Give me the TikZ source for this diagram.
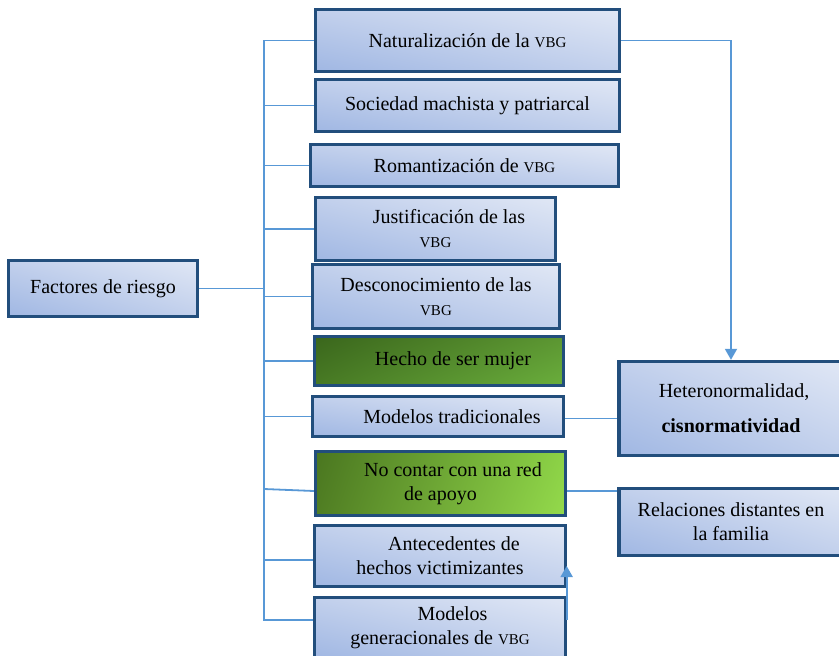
\documentclass[tikz,border=0pt]{standalone}
\usepackage{fontspec}
\setmainfont{Liberation Serif}
\usetikzlibrary{arrows.meta,shadings,calc}

\definecolor{frame}{RGB}{34,78,124}
\definecolor{wire}{RGB}{88,152,214}
\definecolor{bluelo}{RGB}{160,183,227}
\definecolor{bluemid}{RGB}{194,208,236}
\definecolor{bluehi}{RGB}{224,231,245}
\definecolor{darkgreenA}{RGB}{58,102,28}
\definecolor{darkgreenB}{RGB}{72,122,36}
\definecolor{darkgreenC}{RGB}{92,150,50}
\definecolor{darkgreenD}{RGB}{106,174,60}
\definecolor{litegreenA}{RGB}{74,118,32}
\definecolor{litegreenB}{RGB}{80,126,35}
\definecolor{litegreenC}{RGB}{140,210,70}
\definecolor{litegreenD}{RGB}{148,218,76}

\newcommand{\vbg}{{\fontsize{15}{18}\selectfont VBG}}

\tikzset{
  card/.style={draw=frame, line width=3.3pt, inner sep=0pt, align=center,
    font=\fontsize{20}{24}\selectfont},
  bluecard/.style={card, lower left=bluelo, upper right=bluehi,
    upper left=bluemid, lower right=bluemid},
  greencard/.style={card, lower left=darkgreenB, upper left=darkgreenA,
    upper right=darkgreenC, lower right=darkgreenD},
  brightcard/.style={card, lower left=litegreenB, upper left=litegreenA,
    upper right=litegreenC, lower right=litegreenD},
  wirelink/.style={draw=wire, line width=1.8pt},
  wirearrow/.style={wirelink, -{Triangle[width=12pt,length=11pt]}},
}

\begin{document}
\begin{tikzpicture}[x=1pt, y=-1pt]
\useasboundingbox (0,0) rectangle (839,656);
\clip (0,0) rectangle (839,656);

% root
\node[bluecard, minimum width=189pt, minimum height=56pt] (fac) at (103,288.5) {Factores de riesgo};

% risk factors
\node[bluecard, minimum width=304pt, minimum height=62pt] (nat) at (467.5,40.5) {Naturalización de la \vbg};
\node[bluecard, minimum width=304pt, minimum height=52pt] (soc) at (467.5,105.5) {Sociedad machista y patriarcal};
\node[bluecard, minimum width=308pt, minimum height=42pt] (rom) at (464.5,165.5) {Romantización de \vbg};
\node[bluecard, minimum width=240pt, minimum height=63pt] (jus) at (435.5,229) {\hspace*{27pt}Justificación de las\\\vbg};
\node[bluecard, minimum width=247pt, minimum height=64pt] (des) at (436,296.5) {Desconocimiento de las\\\vbg};
\node[greencard, minimum width=249pt, minimum height=49pt] (hec) at (439,361) {\hspace*{28pt}Hecho de ser mujer};
\node[bluecard, minimum width=251pt, minimum height=40pt] (mod) at (438,416.5) {\hspace*{28pt}Modelos tradicionales};
\node[brightcard, minimum width=250pt, minimum height=64pt] (noc) at (440.5,483.5) {\hspace*{25pt}No contar con una red\\de apoyo};
\node[bluecard, minimum width=251pt, minimum height=61pt] (ant) at (440,556) {\hspace*{28pt}Antecedentes de\\hechos victimizantes};
\node[bluecard, minimum width=251pt, minimum height=61pt] (gen) at (440,628) {\hspace*{25pt}Modelos\\generacionales de \vbg};

% consequences
\node[bluecard, minimum width=224pt, minimum height=94pt] (het) at (731,408.5) {\hspace*{6pt}Heteronormalidad,\\[11pt]\textbf{cisnormatividad}};
\node[bluecard, minimum width=224pt, minimum height=67pt] (rel) at (731,522) {Relaciones distantes en\\la familia};

% spine joining the root to every factor
\coordinate (spine) at (264,0);
\coordinate (genstub) at ($(gen.west)+(0,-8)$);
\draw[wirelink] (fac.east) -- (fac.east -| spine);
\draw[wirelink, line cap=rect] (nat.west -| spine) -- (genstub -| spine);
\foreach \b in {nat,soc,rom,jus,des,hec,mod}
  \draw[wirelink] (\b.west -| spine) -- (\b.west);
\draw[wirelink] ($(noc.west -| spine)+(0,5.5)$) -- ($(noc.west)+(0,7.5)$);
\draw[wirelink] ($(ant.west -| spine)+(0,4)$) -- ($(ant.west)+(0,4)$);
\draw[wirelink] (genstub -| spine) -- (genstub);

% links to the consequences
\coordinate (riseA) at ($(gen.east)+(-0.5,-8)$);
\coordinate (riseB) at ($(ant.east)+(-0.5,10)$);
\draw[wirearrow] (nat.east) -| (het.north);
\draw[wirelink] ($(mod.east)+(0,2)$) -- ($(mod.east -| het.west)+(0,2)$);
\draw[wirelink] ($(noc.east)+(0,7.5)$) -- ($(noc.east -| rel.west)+(0,7.5)$);
\draw[wirearrow] (riseA) -- (riseB);
\end{tikzpicture}
\end{document}
